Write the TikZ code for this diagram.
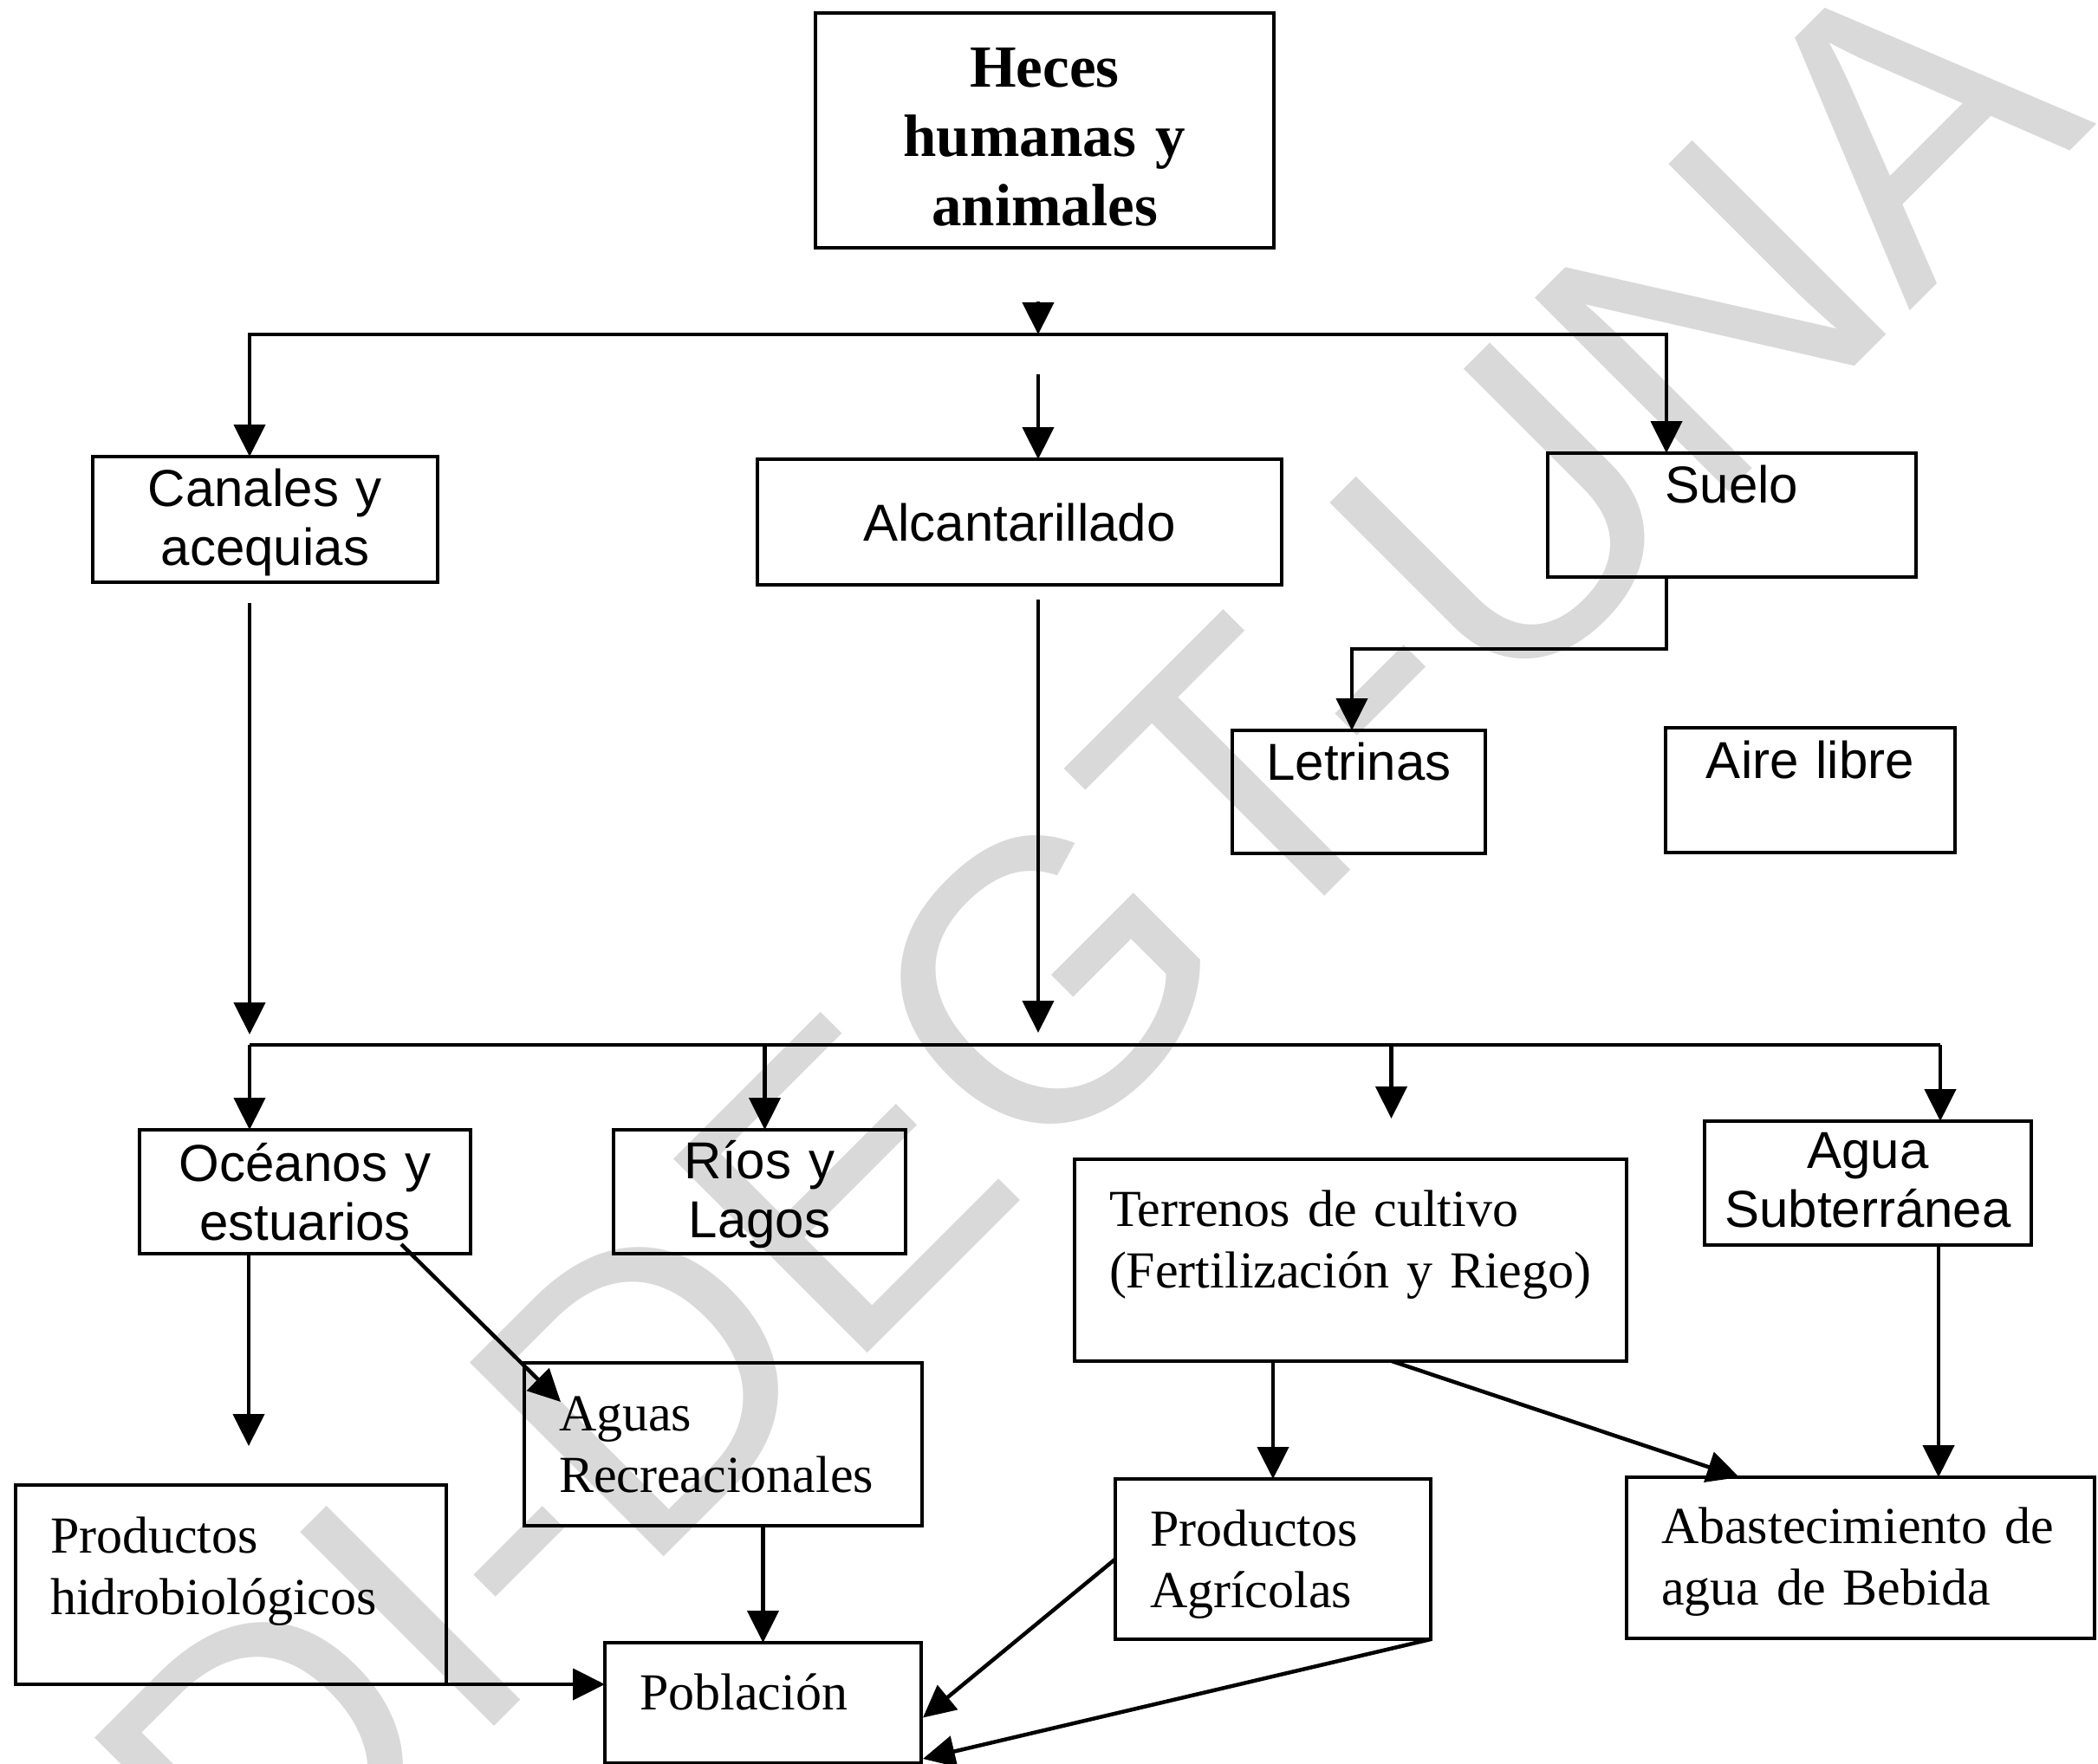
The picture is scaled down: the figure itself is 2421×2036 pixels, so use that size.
\documentclass[tikz,border=0pt]{standalone}
\usepackage{fontspec}
\setmainfont{Liberation Serif}
\setsansfont{Liberation Sans}
\usetikzlibrary{arrows.meta}

\tikzstyle{sansbox} = [rectangle, draw=black, line width=4.5pt, inner sep=0pt,
outer sep=0pt, anchor=north west, align=center,
font=\fontsize{60}{68}\selectfont\sffamily]
\tikzstyle{serifbox} = [rectangle, draw=black, line width=4.5pt, inner xsep=40pt,
inner ysep=0pt, outer sep=0pt, anchor=north west, align=left,
font=\fontsize{60}{71}\selectfont]
\tikzstyle{titlebox} = [sansbox, font=\fontsize{69}{80}\selectfont\bfseries]
\tikzstyle{arrow} = [line width=4.5pt,->,>={Triangle[length=37pt,width=36pt]}]
\tikzstyle{line} = [line width=4.5pt]
\tikzstyle{watermark} = [text=black!15, inner sep=0pt, anchor=base west,
rotate=45, font=\fontsize{460}{460}\selectfont\sffamily]

\begin{document}
\begin{tikzpicture}[x=1pt, y=-1pt]
\useasboundingbox (0,0) rectangle (2421,2036);

\node(wm)[watermark] at (306,2257) {DI-DEGT-UNA};

\node(heces)[titlebox, text width=529pt, text height=86pt, text depth=185pt]
at (941,15) {Heces\\humanas y\\animales};
\node(canales)[sansbox, text width=398pt, text height=57pt, text depth=88pt]
at (107,527) {Canales y\\acequias};
\node(alcant)[sansbox, text width=605pt, text height=94pt, text depth=51pt]
at (874,530) {Alcantarillado};
\node(suelo)[sansbox, text width=425pt, text height=57pt, text depth=86pt]
at (1786,523) {Suelo};
\node(letrinas)[sansbox, text width=292pt, text height=57pt, text depth=85pt]
at (1422,843) {Letrinas};
\node(aire)[sansbox, text width=334pt, text height=58pt, text depth=86pt]
at (1922,840) {Aire libre};
\node(oceanos)[sansbox, text width=382pt, text height=59pt, text depth=84pt]
at (161,1304) {Océanos y\\estuarios};
\node(rios)[sansbox, text width=337pt, text height=56pt, text depth=87pt]
at (708,1304) {Ríos y\\Lagos};
\node(terrenos)[serifbox, text width=557pt, text height=77pt, text depth=156pt]
at (1240,1338) {Terrenos de cultivo\\(Fertilización y Riego)};
\node(aguasub)[sansbox, text width=377pt, text height=54pt, text depth=89pt]
at (1967,1294) {Agua\\Subterránea};
\node(aguasrec)[serifbox, text width=379pt, text height=78pt, text depth=110pt]
at (605,1573) {Aguas\\Recreacionales};
\node(prodhidro)[serifbox, text width=417pt, text height=78pt, text depth=152pt]
at (18,1714) {Productos\\hidrobiológicos};
\node(poblacion)[serifbox, text width=285pt, text height=77pt, text depth=62pt]
at (698,1896) {Población};
\node(prodagr)[serifbox, text width=284pt, text height=77pt, text depth=108pt]
at (1287,1707) {Productos\\Agrícolas};
\node(abast)[serifbox, text width=460pt, text height=76pt, text depth=110pt]
at (1877,1705) {Abastecimiento de\\agua de Bebida};

% buses
\coordinate (b1) at (1198,386);
\coordinate (b2) at (1198,1206);
\coordinate (b2w) at (288,1206);
\coordinate (b2e) at (2239,1206);

\draw[arrow] ([yshift=38pt]b1) -- (b1);
\draw[arrow] (b1) -| ([xshift=-18pt]canales.north);
\draw[arrow] (b1) -| ([xshift=-75.5pt]suelo.north);
\draw[arrow] ([yshift=-46pt]b1 |- b1) -- (b1 |- alcant.north);
\draw[arrow] ([xshift=-75.5pt]suelo.south) -- ++(0,83) -| ([xshift=-8pt]letrinas.north);

\draw[arrow] ([xshift=-18pt,yshift=-24pt]canales.south) -- ([yshift=12pt]b2w);
\draw[arrow] ([yshift=-17pt]b1 |- alcant.south) -- ([yshift=14pt]b2);
\draw[line] (b2w) -- (b2e);
\draw[arrow] (b2w) -- (b2w |- oceanos.north);
\draw[arrow] ([xshift=6pt]rios.north |- b2) -- ([xshift=6pt]rios.north);
\draw[arrow] ([xshift=47pt]terrenos.north |- b2) -- ([xshift=47pt,yshift=47pt]terrenos.north);
\draw[arrow] (b2e) -- (b2e |- aguasub.north);

% lower part
\draw[arrow] ([xshift=-65pt]oceanos.south) -- ([xshift=20.5pt,yshift=45pt]prodhidro.north);
\draw[arrow] ([xshift=111pt,yshift=11pt]oceanos.south) -- ([xshift=42pt,yshift=-45pt]aguasrec.north west);
\draw[arrow] (aguasrec.south -| poblacion.north) -- (poblacion.north);
\draw[arrow] (prodhidro.south east) -- (prodhidro.south east -| poblacion.west);
\draw[arrow] (terrenos.south -| prodagr.north) -- (prodagr.north);
\draw[arrow] ([xshift=47.5pt]terrenos.south) -- ([xshift=-140pt]abast.north);
\draw[arrow] ([xshift=81.5pt]aguasub.south) -- ([xshift=81.5pt]aguasub.south |- abast.north);
\draw[arrow] (prodagr.west) -- ([xshift=2pt,yshift=-17pt]poblacion.east);
\draw[arrow] (prodagr.south east) -- ([xshift=2pt,yshift=5pt]poblacion.south east);

\end{tikzpicture}
\end{document}
